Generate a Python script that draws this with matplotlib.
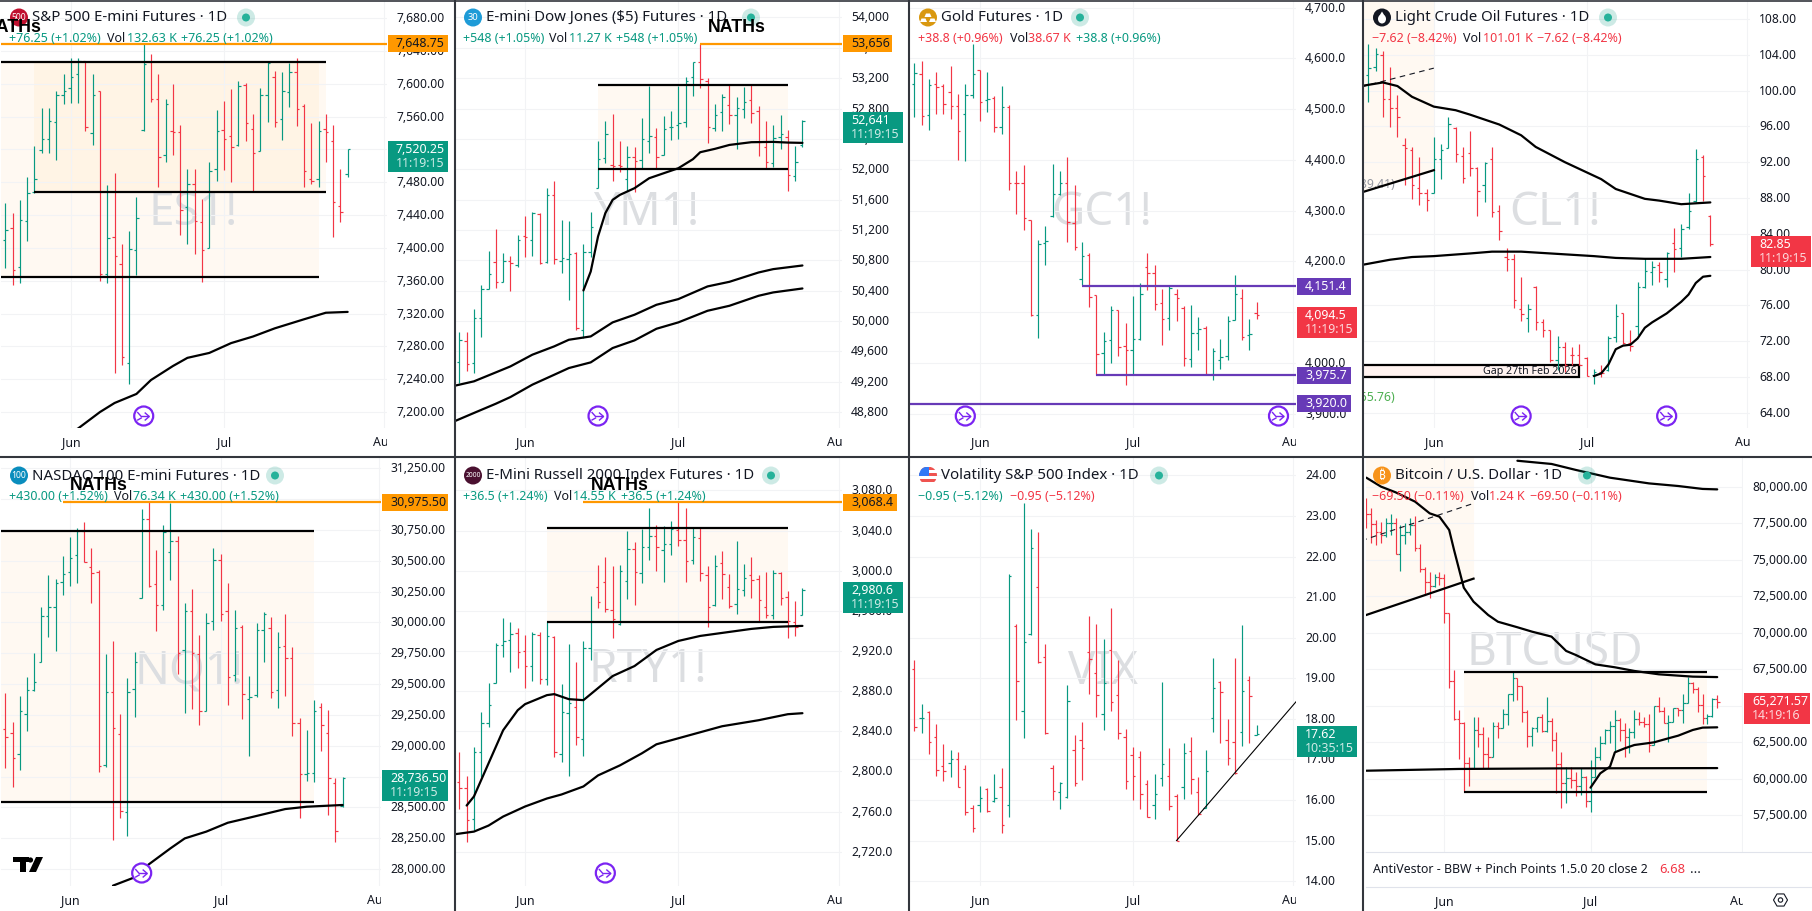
"""
Eight-pane daily futures board: index futures, gold, crude, VIX and bitcoin.
Usage: python plot.py
"""
import numpy as np
import matplotlib
matplotlib.use('Agg')
import matplotlib.pyplot as plt
from matplotlib.patches import Circle, Rectangle, Polygon, RegularPolygon, Ellipse
from matplotlib.transforms import Bbox, IdentityTransform, ScaledTranslation

plt.rcParams['font.family'] = ['Noto Sans', 'DejaVu Sans']

WIDTH, HEIGHT = 1812, 911

GREEN = '#089981'
RED = '#F23645'
ORANGE = '#FF9800'
PURPLE = '#673AB7'
ICON_PURPLE = '#7B24F2'
INK = '#131722'
GRID = '#F2F3F5'
MARK = '#DCDEE1'
EDGE = '#33363D'

# ── S&P 500 e-mini ───────────────────────────────────────────────────────────
ES_OPEN = [7410,7424,7377,7433,7468,7519,7533,7553,7587,7595,7612,7628,7540,7591,7368,7413,7381,7260,7398,7544,7627,7581,7513,7543,7541,7450,7478,7431,7400,7496,7544,7537,7525,7598,7545,7518,7587,7608,7557,7590,7615,7573,7484,7484,7545,7530,7451,7490]
ES_HIGH = [7455,7442,7459,7487,7524,7570,7571,7591,7612,7632,7631,7628,7612,7591,7477,7491,7405,7421,7462,7649,7637,7612,7582,7600,7550,7496,7496,7460,7505,7568,7579,7594,7603,7601,7563,7595,7628,7616,7615,7626,7631,7575,7552,7555,7563,7550,7496,7521]
ES_LOW = [7375,7355,7357,7408,7467,7516,7516,7507,7576,7577,7577,7542,7525,7360,7357,7248,7257,7234,7367,7543,7578,7474,7505,7513,7416,7405,7392,7358,7400,7482,7495,7480,7524,7530,7469,7518,7554,7548,7532,7572,7549,7474,7478,7474,7505,7413,7432,7487]
ES_CLOSE = [7422,7373,7434,7467,7484,7533,7555,7587,7591,7608,7628,7547,7587,7368,7412,7390,7267,7399,7436,7624,7582,7511,7575,7541,7446,7478,7433,7398,7494,7543,7533,7523,7597,7552,7516,7586,7626,7554,7591,7615,7569,7494,7481,7542,7541,7456,7444,7520.25]
ES_MA_BARS = [9,10,13,15,18,20,23,25,28,31,34,37,41,44,47]
ES_MA = [7175,7180,7200,7211,7222,7239,7256,7266,7272,7284,7292,7302,7313,7321,7322]

# ── Dow e-mini ───────────────────────────────────────────────────────────────
YM_OPEN = [49458,49735,49445,50038,50420,50775,50507,50784,50740,51126,51069,51407,50771,51662,50784,50815,50894,49884,50907,51750,52145,52057,52057,51868,52158,52123,52373,52430,52184,52553,52584,52628,53220,53409,53163,52540,52751,52843,52716,52795,52913,52768,52290,52088,52421,52421,51917,52316]
YM_HIGH = [49849,49849,50156,50477,50924,51214,50894,50850,51135,51385,51438,51421,51750,51846,51333,51320,50907,51017,51438,52373,52637,52724,52373,52307,52290,52676,53102,52544,52702,52768,53102,53212,53414,53656,53203,52856,52988,53111,52957,53080,53111,52834,52637,52584,52716,52518,52307,52650]
YM_LOW = [49182,49335,49313,49783,50420,50433,50507,50389,50709,50837,50850,50749,50762,50749,50626,50270,49875,49774,50841,51750,52088,51838,51969,51719,51693,52004,52220,52013,52184,52386,52395,52553,52966,53076,52351,52509,52509,52593,52263,52680,52610,52180,52009,52035,52272,51719,51851,52299]
YM_CLOSE = [49752,49436,50038,50420,50617,50507,50784,50762,51069,51104,51429,50762,51662,50815,50828,50885,49906,50907,51236,52132,52465,52044,52048,52158,52114,52395,52439,52158,52527,52562,52606,53163,53409,53185,52553,52716,52957,52716,52803,52891,52738,52364,52101,52417,52461,51925,52092,52641]
YM_MA1_BARS = [17,18,19,20,21,22,24,26,28,30,32,33,35,37,40,43,45,47]
YM_MA1 = [50402,50652,51113,51421,51596,51662,51750,51881,51947,52013,52132,52224,52268,52320,52356,52360,52351,52347]
YM_MA2_BARS = [-1,2,5,7,10,13,15,18,21,24,27,30,34,37,41,43,47]
YM_MA2 = [49138,49204,49322,49401,49555,49665,49752,49796,49981,50082,50213,50288,50455,50516,50639,50683,50731]
YM_MA3 = [48664,48787,48909,48997,49160,49291,49379,49454,49643,49744,49897,49981,50134,50200,50332,50376,50428]

# ── Gold ─────────────────────────────────────────────────────────────────────
GC_OPEN = [4549,4570,4488,4549,4546,4533,4507,4490,4527,4577,4518,4521,4464,4504,4355,4355,4281,4095,4236,4290,4332,4354,4275,4165,4212,4133,4020,4045,4104,4034,4026,4047,4189,4177,4118,4089,4136,4109,4007,4060,4069,3979,4005,4013,4085,4129,4056,4098]
GC_HIGH = [4590,4595,4559,4573,4549,4585,4530,4549,4628,4578,4573,4525,4546,4509,4378,4390,4282,4243,4270,4392,4378,4406,4351,4238,4216,4134,4062,4113,4105,4079,4132,4157,4216,4193,4146,4151,4146,4113,4115,4090,4072,4030,4047,4093,4173,4146,4087,4120]
GC_LOW = [4485,4469,4458,4490,4490,4481,4400,4398,4522,4477,4494,4455,4451,4340,4294,4262,4092,4049,4193,4287,4330,4239,4222,4153,4110,3977,3977,4001,4014,3957,3977,4045,4143,4105,4035,4066,4083,3995,3993,4025,3976,3966,3989,4005,4085,4045,4026,4087]
GC_CLOSE = [4572,4487,4547,4544,4511,4507,4457,4527,4570,4515,4520,4464,4504,4354,4354,4285,4094,4234,4241,4332,4354,4277,4228,4210,4130,4018,4044,4104,4031,4025,4047,4136,4177,4117,4087,4148,4129,4010,4059,4067,3979,4023,4012,4083,4136,4052,4057,4094.5]

# ── Crude ────────────────────────────────────────────────────────────────────
CL_OPEN = [101.7,102.6,104.0,99.0,98.0,93.9,93.4,89.1,88.5,88.5,92.4,93.6,95.8,92.7,93.0,91.3,89.4,92.3,86.5,81.4,81.2,75.6,74.6,78.1,74.1,73.2,69.9,71.4,70.5,70.4,70.1,68.2,68.6,68.8,72.5,75.1,71.8,73.7,78.0,79.7,80.5,78.9,83.0,82.4,84.7,87.7,92.6,86.0]
CL_HIGH = [105.2,104.8,104.4,102.6,99.5,94.7,93.7,92.6,89.0,94.8,94.0,97.0,95.9,93.7,95.5,91.5,92.0,93.7,87.2,82.4,81.7,79.2,76.1,78.2,74.5,73.3,72.6,71.9,71.3,71.7,70.2,68.9,69.3,72.6,76.2,75.1,73.3,78.6,81.3,81.0,80.8,82.0,84.6,85.1,88.6,93.5,92.8,86.1]
CL_LOW = [98.7,102.2,97.0,95.9,94.8,89.5,87.9,87.2,86.5,88.5,90.1,93.6,92.0,89.7,90.5,86.0,87.5,85.9,83.3,79.8,75.7,74.2,73.0,73.3,72.5,69.7,68.8,68.6,69.3,69.3,68.1,67.2,68.0,68.7,71.9,71.7,70.9,72.7,77.9,78.3,78.6,78.0,79.7,81.4,84.5,87.5,87.7,82.6]
CL_CLOSE = [102.5,104.1,99.1,98.0,97.0,93.6,89.4,88.5,87.8,92.4,93.4,96.3,92.9,90.2,91.3,88.8,91.9,86.4,84.3,81.2,76.6,75.0,75.6,74.1,73.2,69.9,71.4,69.3,70.4,69.3,68.1,68.5,68.4,72.3,74.8,71.8,71.5,78.0,79.8,80.3,79.7,81.8,82.3,84.5,86.5,92.3,90.4,82.85]
CL_MA1_BARS = [-1,2,4,6,9,12,14,18,21,23,27,32,34,38,40,43,47]
CL_MA1 = [100.5,100.9,100.5,99.3,98.2,97.8,97.3,96.2,95.0,93.7,92.0,90.1,89.0,87.9,87.7,87.3,87.5]
CL_MA2_BARS = [-1,3,6,9,14,17,21,27,31,34,38,43,47]
CL_MA2 = [80.5,81.1,81.4,81.5,81.8,82.0,82.0,81.7,81.5,81.3,81.2,81.2,81.4]
CL_MA3_BARS = [31,32,33,34,35,36,37,38,39,40,41,43,44,45,46,47]
CL_MA3 = [68.1,68.4,69.4,71.1,71.5,71.6,72.3,73.5,74.1,74.6,75.1,76.4,77.2,78.5,79.2,79.3]
CL_CHANNEL_BARS = [-1,9]
CL_CHANNEL_LOW = [88.6,91.1]
CL_CHANNEL_MID = [100.4,102.5]

# ── Nasdaq e-mini ────────────────────────────────────────────────────────────
NQ_OPEN = [29132,29100,28930,29254,29451,29681,30049,30122,30324,30411,30546,30741,30451,30411,28843,29432,29092,28459,29457,30200,30838,30308,30143,30573,30662,29773,30089,29741,29284,30011,30503,30092,29573,29959,29376,29411,29935,29957,29451,29805,29711,29186,28767,28776,29311,29100,28700,28513]
NQ_HIGH = [29427,29195,29403,29557,29751,30124,30384,30349,30538,30692,30765,30814,30603,30424,29743,29849,29257,29549,29759,30919,30975.5,30587,30789,30970,30700,30154,30270,29897,30076,30603,30554,30319,30100,29978,29565,29997,30084,30046,29924,30068,29800,29222,29127,29370,29343,29289,28735,28749]
NQ_LOW = [28821,28667,28803,29119,29446,29681,29884,29770,30222,30297,30319,30487,30157,28789,28830,28235,28416,28267,29235,30200,30284,29932,30100,30343,29581,29267,29297,29167,29284,29938,30014,29330,29524,29216,28919,29397,29676,29389,29308,29405,29081,28416,28713,28708,28957,28438,28221,28505]
NQ_CLOSE = [29073,28897,29278,29451,29519,30049,30122,30319,30389,30519,30741,30492,30397,28835,29432,29140,28473,29432,29676,30838,30297,30143,30730,30662,29749,30095,29749,29284,29992,30505,30065,29554,29951,29416,29392,29935,30065,29432,29797,29711,29181,28767,28776,29284,29167,28740,28308,28736.5]
NQ_MA_BARS = [15,18,20,23,25,28,31,34,39,42,47]
NQ_MA = [27865,27932,28038,28167,28248,28303,28375,28416,28486,28505,28519]

# ── Russell e-mini ───────────────────────────────────────────────────────────
RTY_OPEN = [2789,2783,2753,2819,2848,2888,2926,2931,2938,2920,2905,2936,2892,2934,2817,2858,2864,2832,2923,2984,2989,2961,2947,2990,3022,2998,3024,3035,3021,3027,3041,3031,3011,3033,2996,2966,3008,2984,2967,2981,2996,2992,2964,2956,2998,2974,2949,2956]
RTY_HIGH = [2819,2795,2824,2859,2888,2928,2953,2949,2943,2936,2939,2939,2950,2935,2887,2927,2909,2930,2975,3006,3014,3005,3006,3040,3029,3042,3062,3046,3045,3050,3068.4,3062,3043,3043,3005,3016,3020,2997,3030,3007,3014,2996,2999,3001,2999,2980,2970,2983]
RTY_LOW = [2763,2730,2742,2794,2844,2888,2914,2899,2903,2883,2890,2887,2886,2814,2809,2795,2826,2815,2911,2963,2959,2933,2946,2972,2966,2988,3011,3000,2989,3016,3025,2989,3007,2990,2944,2965,2972,2963,2957,2975,2973,2950,2953,2952,2966,2933,2935,2956]
RTY_CLOSE = [2783,2752,2819,2848,2866,2926,2930,2937,2919,2905,2937,2892,2935,2819,2859,2868,2834,2923,2950,2969,2962,2952,3000,3022,2999,3024,3035,3024,3027,3042,3031,3010,3034,2998,2964,3005,2997,2965,2982,2993,2991,2971,2956,2998,2973,2950,2944,2980.6]
RTY_MA1_BARS = [1,2,4,6,8,9,12,13,15,17,19,21,24,27,30,33,36,40,43,47]
RTY_MA1 = [2766,2775,2808,2841,2861,2867,2876,2877,2872,2871,2883,2895,2905,2921,2930,2935,2938,2942,2944,2945]
RTY_MA2_BARS = [-1,2,4,6,9,12,14,17,19,22,25,27,32,36,41,45,47]
RTY_MA2 = [2737,2740,2746,2755,2765,2773,2777,2785,2796,2806,2818,2827,2837,2845,2851,2857,2858]

# ── VIX ──────────────────────────────────────────────────────────────────────
VIX_OPEN = [19.24,18.01,18.17,17.56,16.83,16.90,17.00,16.76,15.81,15.88,16.26,15.98,16.31,15.88,20.29,18.19,20.10,21.24,19.52,16.80,16.19,16.07,17.23,17.48,19.66,19.12,18.11,19.69,18.60,17.55,17.10,17.05,16.39,15.87,16.54,16.58,16.10,16.31,17.20,16.19,15.81,18.01,18.91,17.47,17.42,17.67,18.95,17.60]
VIX_HIGH = [19.45,18.37,18.19,17.87,17.38,17.23,17.18,16.86,15.88,16.35,16.29,16.64,16.80,21.57,20.35,23.33,22.68,22.60,19.84,16.86,16.44,18.83,17.60,17.93,20.53,20.34,19.97,20.73,19.45,17.75,17.31,17.21,16.49,16.64,18.91,17.28,16.14,17.41,17.55,16.57,17.23,19.50,18.93,18.00,19.50,20.31,19.06,17.85]
VIX_LOW = [17.70,17.65,17.14,16.59,16.48,16.57,16.31,15.62,15.22,15.71,15.71,15.96,15.19,15.57,17.96,17.54,20.07,19.38,17.62,15.99,15.79,16.04,16.35,16.49,18.62,18.05,17.73,18.20,17.51,16.28,15.99,15.79,15.57,15.54,16.35,15.76,14.98,16.03,16.16,15.62,15.80,17.68,17.41,16.86,16.64,17.34,17.41,17.60]
VIX_CLOSE = [17.81,18.03,17.42,16.73,16.72,17.00,16.31,15.71,15.30,16.04,15.74,16.04,15.39,21.51,18.93,19.89,22.22,19.41,17.66,16.21,16.41,18.43,16.41,17.27,19.47,18.60,18.88,18.41,17.64,16.47,16.58,16.14,15.58,16.14,16.88,15.85,15.00,17.15,16.51,15.65,16.72,18.75,18.65,17.03,16.66,18.69,18.56,17.62]
VIX_TREND_BARS = [36,52.4]
VIX_TREND = [15.00,18.42]

# ── Bitcoin ──────────────────────────────────────────────────────────────────
BTC_OPEN = [78740,78100,77420,76910,76690,77490,77530,75410,76690,76910,77370,75770,74340,73490,73220,73830,73720,71320,66690,64070,63840,61050,60760,63340,63040,61670,61510,63630,63500,64410,65780,66920,66370,64550,62930,63500,64200,63270,63950,62650,60990,59690,60070,59910,59500,60140,58500,60140,61470,62420,63340,63610,64020,63340,62880,63220,64070,63910,63720,62310,65000,64640,63840,63910,64820,64710,65160,66580,66140,65050,64180,64300,65440]
BTC_HIGH = [79200,78510,77710,77600,77830,78100,77830,77370,77490,77830,78010,76050,74520,74180,73990,74130,73990,71320,67420,64710,63910,61510,64200,64200,63560,62880,63910,63910,64750,65800,67280,66920,66370,64710,63560,64250,64410,65570,64140,63220,61850,60780,60830,60480,60710,60190,61280,62150,62930,63380,63950,64710,64140,63790,63450,64680,64550,64250,64410,65000,65570,64930,64360,64870,64870,65800,66990,66650,66300,65780,64410,65500,65730]
BTC_LOW = [77140,76120,76000,76120,76570,76690,75360,74240,76050,76690,75590,74180,72580,72400,73150,73260,70640,66190,64020,61350,59070,59500,60760,62200,60710,60760,61510,62810,63450,63680,65320,65390,63910,62200,62260,63220,63180,63220,61920,59000,58020,58320,59340,58840,58890,58090,57750,60140,61280,62360,62420,61850,62580,61510,61740,62770,63680,63560,61810,62310,64590,63790,62490,63910,64320,63790,65160,65850,64590,63720,63770,64250,64870]
BTC_CLOSE = [78100,77420,76910,76690,77490,77530,75410,76690,76910,77370,75770,74340,73490,73220,73830,73720,71320,66690,64070,63840,61050,60760,63340,63040,61670,61510,63630,63500,64410,65780,66920,66370,64550,62930,63500,64200,63270,63950,62650,60990,59690,60070,59910,59500,60140,58500,60140,61470,62420,63340,63610,64020,63340,62880,63220,64070,63910,63720,62310,65000,64640,63840,63910,64820,64710,65160,66580,66140,65050,64180,64300,65440,65271.57]
BTC_MA1_BARS = [0,3,6,10,13,15,17,18,20,22,25,27,31,34,38,41,43,47,51,55,60,67,72]
BTC_MA1 = [80610,80000,79610,78970,78170,77940,77030,75660,73080,72120,71210,70750,70370,70070,69730,68750,68470,67830,67630,67380,67150,66990,66960]
BTC_MA2_BARS = [31,38,43,50,58,64,69,72]
BTC_MA2 = [81770,81550,81140,80610,80220,80040,79840,79810]
BTC_MA3_BARS = [0,19,40,72]
BTC_MA3 = [60550,60670,60710,60730]
BTC_MA4_BARS = [46,48,50,51,53,55,59,62,64,67,69,72]
BTC_MA4 = [59390,60370,60830,61810,62080,62310,62490,62770,62950,63340,63500,63520]
BTC_CHANNEL_BARS = [-1,22]
BTC_CHANNEL_LOW = [71100,73700]
BTC_CHANNEL_MID = [76300,78850]

# ── helpers ──────────────────────────────────────────────────────────────────

fig = plt.figure(figsize=(WIDTH / 100, HEIGHT / 100), dpi=100, facecolor='white')

# overlay in screen pixels for headers, price flags and icons
pane = fig.add_axes([0, 0, 1, 1], zorder=10)
pane.set_xlim(0, WIDTH)
pane.set_ylim(HEIGHT, 0)
pane.axis('off')
pane.patch.set_alpha(0)


def make_axes(cfg):
    left, top, right, bottom = cfg['box']
    ax = fig.add_axes([left / WIDTH, 1 - bottom / HEIGHT,
                       (right - left) / WIDTH, (bottom - top) / HEIGHT])
    ax.set_xlim((left - cfg['x0']) / cfg['step'], (right - cfg['x0']) / cfg['step'])
    ax.set_ylim(cfg['ylim'])
    for spine in ax.spines.values():
        spine.set_visible(False)
    ax.yaxis.tick_right()
    ax.set_yticks(cfg['yticks'])
    ax.set_yticklabels([cfg['fmt'].format(v) for v in cfg['yticks']])
    ax.set_xticks(cfg['xticks'])
    ax.set_xticklabels(['Jun', 'Jul', 'Aug'])
    ax.tick_params(axis='y', length=0, pad=6.5, labelsize=8.7, labelcolor=INK)
    ax.tick_params(axis='x', length=0, pad=cfg.get('xpad', 6.0), labelsize=8.9, labelcolor=INK)
    ax.grid(True, color=GRID, linewidth=0.8)
    ax.set_axisbelow(True)
    # price labels sit a pixel above their gridline
    lift = ScaledTranslation(0, 1 / 100, fig.dpi_scale_trans)
    for label in ax.get_yticklabels():
        label.set_transform(label.get_transform() + lift)
    # the price scale hides the end of the last month label
    aug = ax.get_xticklabels()[2]
    aug.set_clip_on(True)
    aug.set_clip_box(Bbox([[left, 0], [right, HEIGHT]]))
    ax.text(cfg['mark_xy'][0], HEIGHT - cfg['mark_xy'][1], cfg['mark'],
            transform=IdentityTransform(),
            fontsize=33, color=MARK, ha='center', va='center', zorder=0.5)
    return ax


def draw_bars(ax, cfg, opens, highs, lows, closes):
    opens, highs, lows, closes = map(np.asarray, (opens, highs, lows, closes))
    idx = np.arange(len(opens))
    colors = [RED if c < o else GREEN for o, c in zip(opens, closes)]
    tick = 2.4 / cfg['step']
    ax.vlines(idx, lows, highs, colors=colors, linewidth=0.85, zorder=3)
    ax.hlines(opens, idx - tick, idx, colors=colors, linewidth=0.85, zorder=3)
    ax.hlines(closes, idx, idx + tick, colors=colors, linewidth=0.85, zorder=3)


def ma_line(ax, bars, values, lw=1.6):
    ax.plot(bars, values, color='black', linewidth=lw, zorder=4,
            solid_capstyle='round', solid_joinstyle='round')


def level(ax, start, end, value, color='black', lw=1.6):
    ax.plot([start, end], [value, value], color=color, linewidth=lw,
            solid_capstyle='butt', zorder=4)


def tint(ax, x0, x1, y0, y1):
    ax.fill_between([x0, x1], [y0, y0], [y1, y1], color=ORANGE, alpha=0.05,
                    linewidth=0, zorder=0.2)


def price_y(ax, value):
    return HEIGHT - ax.transData.transform((0, value))[1]


def flag(ax, cfg, value, text, color, width, timer=None, txt='white'):
    left = cfg['box'][2] + 1
    y = price_y(ax, value)
    height = 31 if timer else 17
    pane.add_patch(Rectangle((left, y - 8.5), width, height, facecolor=color,
                             edgecolor='none', zorder=5))
    pane.text(left + 8, y, text, color=txt, fontsize=8.9, va='center', ha='left', zorder=6)
    if timer:
        pane.text(left + 8, y + 14, timer, color='#FFFFFFCC', fontsize=8.9,
                  va='center', ha='left', zorder=6)


def replay_icon(cfg, bar, y):
    x = cfg['x0'] + bar * cfg['step']
    pane.add_patch(Circle((x, y), 9.5, facecolor='white', edgecolor=ICON_PURPLE,
                          linewidth=1.6, zorder=5))
    pane.plot([x - 6, x - 2.5, x + 5], [y - 3.5, y + 0.5, y + 0.5], color=ICON_PURPLE,
              linewidth=1.0, zorder=6)
    pane.plot([x + 1.5, x + 5.5, x + 1.5], [y - 3, y + 0.5, y + 4], color=ICON_PURPLE,
              linewidth=1.0, zorder=6)
    pane.plot([x - 6, x - 2.5], [y + 4, y + 2], color=ICON_PURPLE, linewidth=1.0, zorder=6)


def symbol_icon(kind, x, y):
    colors = {'500': '#C0102F', '30': '#1E9BD7', '100': '#0A8DBD', '2000': '#4A1030',
              'gold': '#D9980F', 'oil': '#131722', 'btc': '#F7931A', 'flag': 'white'}
    pane.add_patch(Circle((x, y), 9, facecolor=colors[kind], edgecolor='none', zorder=5))
    if kind in ('500', '30', '100', '2000'):
        size = {'500': 6.2, '30': 6.8, '100': 6.2, '2000': 4.8}[kind]
        pane.text(x, y, kind, color='white', fontsize=size, fontweight='bold',
                  ha='center', va='center', zorder=6)
    elif kind == 'btc':
        pane.text(x, y, '₿', color='white', fontsize=8.5, fontweight='bold',
                  ha='center', va='center', zorder=6)
    elif kind == 'gold':
        for dx, dy in [(-4.5, 3), (4.5, 3), (0, -2)]:
            pane.add_patch(Polygon([(x + dx - 3.5, y + dy + 1.5), (x + dx + 3.5, y + dy + 1.5),
                                    (x + dx + 2, y + dy - 2), (x + dx - 2, y + dy - 2)],
                                   facecolor='white', edgecolor='none', zorder=6))
    elif kind == 'oil':
        pane.add_patch(Ellipse((x, y + 1.5), 8, 9, facecolor='white', edgecolor='none', zorder=6))
        pane.add_patch(Polygon([(x - 3.6, y), (x + 3.6, y), (x, y - 6)], facecolor='white',
                               edgecolor='none', zorder=6))
    else:
        disc = Circle((x, y), 9, transform=pane.transData)
        for i, c in enumerate(['#EF5350', 'white', '#EF5350', 'white', '#EF5350', 'white']):
            r = Rectangle((x - 9, y - 9 + i * 3), 18, 3, facecolor=c, edgecolor='none', zorder=6)
            pane.add_patch(r)
            r.set_clip_path(disc)
        r = Rectangle((x - 9, y - 9), 9.5, 9, facecolor='#3179F5', edgecolor='none', zorder=7)
        pane.add_patch(r)
        r.set_clip_path(disc)


def header(org, icon, title, title_x, dot_x, segments, rows=(17.5, 38.5)):
    ox, oy = org
    symbol_icon(icon[0], ox + icon[1], oy + rows[0])
    pane.text(ox + title_x, oy + rows[0], title, color=INK, fontsize=10.8, va='center', zorder=6)
    pane.add_patch(Circle((ox + dot_x, oy + rows[0]), 9, facecolor=GREEN, alpha=0.2,
                          edgecolor='none', zorder=5))
    pane.add_patch(Circle((ox + dot_x, oy + rows[0]), 4, facecolor='#26B29A',
                          edgecolor='none', zorder=6))
    for sx, text, color in segments:
        pane.text(ox + sx, oy + rows[1], text, color=color, fontsize=9.0, va='center', zorder=6)


def naths(ax, bar, value):
    # drawn on the overlay so the label sits over the header row
    x = ax.transData.transform((bar, value))[0]
    pane.text(x, price_y(ax, value), 'NATHs', fontsize=12.8, fontweight='bold',
              family='Liberation Sans', color='black', ha='center', va='center', zorder=8)


# ── panes ────────────────────────────────────────────────────────────────────

TOP = (1, 428)
LOW = (458, 886)

ES = dict(box=(1, TOP[0], 387, TOP[1]), x0=16 / 3, step=21.85 / 3, ylim=(7180.5, 7701),
          yticks=list(range(7200, 7681, 40)), fmt='{:,.2f}', xticks=[9, 30, 52],
          mark='ES1!', mark_xy=(193, 213))
YM = dict(box=(456, TOP[0], 842, TOP[1]), x0=456 + 10 / 3, step=21.9 / 3, ylim=(48589, 54217),
          yticks=list(range(48800, 54001, 400)), fmt='{:,.0f}', xticks=[9, 30, 52],
          mark='YM1!', mark_xy=(646, 213))
GC = dict(box=(910, TOP[0], 1296, TOP[1]), x0=910 + 13 / 3, step=21.85 / 3, ylim=(3872, 4713),
          yticks=list(range(3900, 4701, 100)), fmt='{:,.1f}', xticks=[9, 30, 52],
          mark='GC1!', mark_xy=(1102, 213))
CL = dict(box=(1364, TOP[0], 1750, TOP[1]), x0=1360 + 25 / 3, step=21.83 / 3, ylim=(62.3, 110.0),
          yticks=list(range(64, 109, 4)), fmt='{:.2f}', xticks=[9, 30, 52],
          mark='CL1!', mark_xy=(1555, 213))
NQ = dict(box=(1, LOW[0], 381, LOW[1]), x0=16 / 3, step=21.53 / 3, ylim=(27862, 31333),
          yticks=list(range(28000, 31251, 250)), fmt='{:,.2f}', xticks=[9, 30, 52],
          mark='NQ1!', mark_xy=(189, 672))
RTY = dict(box=(456, LOW[0], 842, LOW[1]), x0=456 + 10 / 3, step=21.9 / 3, ylim=(2685.8, 3112.3),
           yticks=list(range(2720, 3081, 40)), fmt='{:,.1f}', xticks=[9, 30, 52],
           mark='RTY1!', mark_xy=(648, 670))
VIX = dict(box=(910, LOW[0], 1296, LOW[1]), x0=910 + 13 / 3, step=21.85 / 3, ylim=(13.88, 24.43),
           yticks=list(range(14, 25)), fmt='{:.2f}', xticks=[9, 30, 52],
           mark='VIX', mark_xy=(1103, 672))
BTC = dict(box=(1366, LOW[0], 1743, 852), x0=1360 + 19 / 3, step=14.62 / 3, ylim=(54985, 81958),
           yticks=list(range(57500, 80001, 2500)), fmt='{:,.2f}', xticks=[16, 46, 77], xpad=31,
           mark='BTCUSD', mark_xy=(1555, 653))

# S&P 500
ax = make_axes(ES)
tint(ax, -1, 43, 7364, 7627)
tint(ax, 4, 44, 7468, 7627)
level(ax, -1, 44, 7627)
level(ax, 4, 44, 7468)
level(ax, -1, 43, 7364)
level(ax, -1, 53, 7648.75, ORANGE)
draw_bars(ax, ES, ES_OPEN, ES_HIGH, ES_LOW, ES_CLOSE)
ma_line(ax, ES_MA_BARS, ES_MA)
naths(ax, 1, 7669)
flag(ax, ES, 7648.75, '7,648.75', ORANGE, 60, txt=INK)
flag(ax, ES, 7520.25, '7,520.25', GREEN, 60, timer='11:19:15')
replay_icon(ES, 19, 416)
header((0, 0), ('500', 19), 'S&P 500 E-mini Futures · 1D', 32, 246,
       [(9, '+76.25 (+1.02%)', GREEN), (107, 'Vol', INK), (127, '132.63 K', GREEN),
        (181, '+76.25 (+1.02%)', GREEN)])

# Dow
ax = make_axes(YM)
tint(ax, 19, 45, 52004, 53111)
level(ax, 19, 45, 53111)
level(ax, 19, 45, 52004)
level(ax, 33, 53, 53656, ORANGE)
draw_bars(ax, YM, YM_OPEN, YM_HIGH, YM_LOW, YM_CLOSE)
ma_line(ax, YM_MA1_BARS, YM_MA1)
ma_line(ax, YM_MA2_BARS, YM_MA2)
ma_line(ax, YM_MA2_BARS, YM_MA3)
flag(ax, YM, 53656, '53,656', ORANGE, 49, txt=INK)
flag(ax, YM, 52641, '52,641', GREEN, 60, timer='11:19:15')
replay_icon(YM, 19, 416)
header((456, 0), ('30', 17), 'E-mini Dow Jones ($5) Futures · 1D', 30, 295,
       [(7, '+548 (+1.05%)', GREEN), (93, 'Vol', INK), (113, '11.27 K', GREEN),
        (160, '+548 (+1.05%)', GREEN)])
naths(ax, 38, 53870)

# Gold
ax = make_axes(GC)
level(ax, 23, 53, 4151.4, PURPLE)
level(ax, 25, 53, 3975.7, PURPLE)
level(ax, -1, 53, 3920.0, PURPLE)
draw_bars(ax, GC, GC_OPEN, GC_HIGH, GC_LOW, GC_CLOSE)
flag(ax, GC, 4094.5, '4,094.5', RED, 60, timer='11:19:15')
flag(ax, GC, 4151.4, '4,151.4', PURPLE, 54)
flag(ax, GC, 3975.7, '3,975.7', PURPLE, 54)
flag(ax, GC, 3920.0, '3,920.0', PURPLE, 54)
replay_icon(GC, 7, 416)
replay_icon(GC, 50, 416)
header((910, 0), ('gold', 18), 'Gold Futures · 1D', 31, 170,
       [(8, '+38.8 (+0.96%)', RED), (100, 'Vol', INK), (118, '38.67 K', RED),
        (166, '+38.8 (+0.96%)', GREEN)])

# Crude
ax = make_axes(CL)
ax.fill_between(CL_CHANNEL_BARS, CL_CHANNEL_LOW, [111, 111], color=ORANGE, alpha=0.05,
                linewidth=0, zorder=0.2)
ax.plot(CL_CHANNEL_BARS, CL_CHANNEL_LOW, color='black', linewidth=1.6, zorder=4)
ax.plot(CL_CHANNEL_BARS, CL_CHANNEL_MID, color=INK, linewidth=0.8, linestyle=(0, (5, 4)), zorder=4)
ax.text(3.76, 89.5, '(89.41)', color='#9598A1', fontsize=8.8, ha='right', va='center',
        clip_on=True, zorder=3)
ax.text(3.76, 65.7, '(65.76)', color='#4CAF50', fontsize=8.8, ha='right', va='center',
        clip_on=True, zorder=3)
ax.add_patch(Rectangle((-1, 68.0), 30, 1.3, facecolor='#FFF3F0', edgecolor='black',
                       linewidth=1.6, zorder=2))
ax.text(28.7, 68.65, 'Gap 27th Feb 2026', color=INK, fontsize=7.7, ha='right', va='center', zorder=6)
draw_bars(ax, CL, CL_OPEN, CL_HIGH, CL_LOW, CL_CLOSE)
ma_line(ax, CL_MA1_BARS, CL_MA1)
ma_line(ax, CL_MA2_BARS, CL_MA2)
ma_line(ax, CL_MA3_BARS, CL_MA3)
flag(ax, CL, 82.85, '82.85', RED, 60, timer='11:19:15')
replay_icon(CL, 21, 416)
replay_icon(CL, 41, 416)
header((1360, 0), ('oil', 22), 'Light Crude Oil Futures · 1D', 35, 248,
       [(12, '−7.62 (−8.42%)', RED), (103, 'Vol', INK), (123, '101.01 K', RED),
        (177, '−7.62 (−8.42%)', RED)])

# Nasdaq
ax = make_axes(NQ)
tint(ax, -1, 43, 28546, 30741)
level(ax, -1, 43, 30741)
level(ax, -1, 43, 28546)
level(ax, 8, 53, 30975.5, ORANGE)
draw_bars(ax, NQ, NQ_OPEN, NQ_HIGH, NQ_LOW, NQ_CLOSE)
ma_line(ax, NQ_MA_BARS, NQ_MA)
flag(ax, NQ, 30975.5, '30,975.50', ORANGE, 66, txt=INK)
flag(ax, NQ, 28736.5, '28,736.50', GREEN, 66, timer='11:19:15')
replay_icon(NQ, 19, 873)
header((0, 455), ('100', 19), 'NASDAQ 100 E-mini Futures · 1D', 32, 275,
       [(9, '+430.00 (+1.52%)', GREEN), (114, 'Vol', INK), (133, '76.34 K', GREEN),
        (180, '+430.00 (+1.52%)', GREEN)], rows=(20.5, 41.5))
naths(ax, 13, 31108)
# TradingView mark
pane.add_patch(Rectangle((13, 857), 16, 5, facecolor='black', zorder=6))
pane.add_patch(Rectangle((20, 857), 6, 15, facecolor='black', zorder=6))
pane.add_patch(Circle((30.5, 860), 2.6, facecolor='black', zorder=6))
pane.add_patch(Polygon([(36, 857), (43, 857), (36, 872), (29, 872)], facecolor='black', zorder=6))

# Russell
ax = make_axes(RTY)
tint(ax, 12, 45, 2949, 3043)
level(ax, 12, 45, 3043)
level(ax, 12, 45, 2949)
level(ax, 17, 53, 3068.4, ORANGE)
draw_bars(ax, RTY, RTY_OPEN, RTY_HIGH, RTY_LOW, RTY_CLOSE)
ma_line(ax, RTY_MA1_BARS, RTY_MA1)
ma_line(ax, RTY_MA2_BARS, RTY_MA2)
flag(ax, RTY, 3068.4, '3,068.4', ORANGE, 54, txt=INK)
flag(ax, RTY, 2980.6, '2,980.6', GREEN, 60, timer='11:19:15')
replay_icon(RTY, 20, 873)
header((456, 455), ('2000', 17), 'E-Mini Russell 2000 Index Futures · 1D', 30, 315,
       [(7, '+36.5 (+1.24%)', GREEN), (98, 'Vol', INK), (117, '14.55 K', GREEN),
        (165, '+36.5 (+1.24%)', GREEN)], rows=(20.5, 41.5))
naths(ax, 22, 3085)

# VIX
ax = make_axes(VIX)
draw_bars(ax, VIX, VIX_OPEN, VIX_HIGH, VIX_LOW, VIX_CLOSE)
ax.plot(VIX_TREND_BARS, VIX_TREND, color='black', linewidth=0.8, zorder=4)
flag(ax, VIX, 17.62, '17.62', GREEN, 60, timer='10:35:15')
header((910, 455), ('flag', 18), 'Volatility S&P 500 Index · 1D', 31, 249,
       [(8, '−0.95 (−5.12%)', GREEN), (100, '−0.95 (−5.12%)', RED)], rows=(20.5, 41.5))

# Bitcoin
ax = make_axes(BTC)
ax.fill_between(BTC_CHANNEL_BARS, BTC_CHANNEL_LOW, [82000, 82000], color=ORANGE, alpha=0.05,
                linewidth=0, zorder=0.2)
ax.plot(BTC_CHANNEL_BARS, BTC_CHANNEL_LOW, color='black', linewidth=1.6, zorder=4)
ax.plot(BTC_CHANNEL_BARS, BTC_CHANNEL_MID, color=INK, linewidth=0.8, linestyle=(0, (5, 4)), zorder=4)
tint(ax, 20, 70, 59115, 67310)
level(ax, 20, 70, 67310)
level(ax, 20, 70, 59115)
draw_bars(ax, BTC, BTC_OPEN, BTC_HIGH, BTC_LOW, BTC_CLOSE)
ma_line(ax, BTC_MA1_BARS, BTC_MA1)
ma_line(ax, BTC_MA2_BARS, BTC_MA2)
ma_line(ax, BTC_MA3_BARS, BTC_MA3)
ma_line(ax, BTC_MA4_BARS, BTC_MA4)
flag(ax, BTC, 65271.57, '65,271.57', RED, 66, timer='14:19:16')
header((1360, 455), ('btc', 22), 'Bitcoin / U.S. Dollar · 1D', 35, 227,
       [(12, '−69.50 (−0.11%)', RED), (111, 'Vol', INK), (129, '1.24 K', RED),
        (170, '−69.50 (−0.11%)', RED)], rows=(20.5, 41.5))

# indicator strip and settings gear under the bitcoin pane
pane.plot([1366, WIDTH], [852, 852], color='#E0E3EB', linewidth=0.8)
pane.plot([1366, WIDTH], [887, 887], color='#E0E3EB', linewidth=0.8)
pane.text(1373, 869.5, 'AntiVestor - BBW + Pinch Points 1.5.0 20 close 2', color=INK,
          fontsize=8.95, va='center')
pane.text(1659, 869.5, '6.68', color=RED, fontsize=9.4, va='center')
pane.text(1690, 869.5, '...', color=INK, fontsize=9.4, va='center')
pane.add_patch(RegularPolygon((1780.5, 900), 6, radius=7, orientation=np.pi / 2,
                              facecolor='white', edgecolor=INK, linewidth=0.8))
pane.add_patch(Circle((1780.5, 900), 2.2, facecolor='white', edgecolor=INK, linewidth=0.8))

# pane dividers
for x in (455, 909, 1363):
    pane.plot([x, x], [0, HEIGHT], color=EDGE, linewidth=1.5, solid_capstyle='butt')
pane.plot([0, WIDTH], [457, 457], color=EDGE, linewidth=1.5, solid_capstyle='butt')
pane.plot([0, WIDTH], [0.5, 0.5], color=EDGE, linewidth=1.2, solid_capstyle='butt')

fig.savefig('out.png', dpi=100)
plt.close(fig)
